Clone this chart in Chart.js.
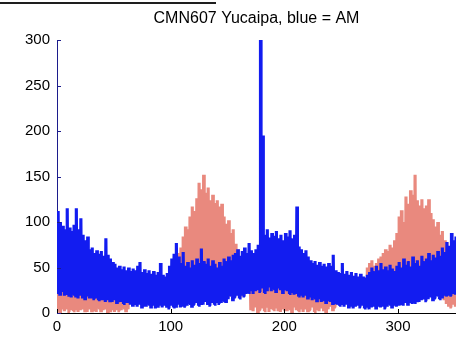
<!DOCTYPE html>
<html><head><meta charset="utf-8">
<script src="https://cdn.jsdelivr.net/npm/chart.js@4.4.0/dist/chart.umd.min.js"></script>
<style>html,body{margin:0;padding:0;background:#fff;overflow:hidden}canvas{display:block}</style>
</head><body><canvas id="c" width="456" height="337"></canvas>
<script>
// Day-of-year bins, 2 days wide, starting at day 0 (d = 0,2,...,350)
const binDays = 2;
const xTickValues = [0, 100, 200, 300];
const yTickValues = [0, 50, 100, 150, 200, 250, 300];
const titleText = 'CMN607 Yucaipa, blue = AM';

// AM (blue): upper and lower envelope of readings per bin
const amHigh = [
 112,100,96,92,115,94,90,97,115,92,
 104,86,80,84,70,72,66,69,65,68,
 63,82,64,60,56,54,50,52,48,51,
 47,50,46,49,47,52,56,45,48,44,
 47,43,46,42,45,55,42,40,44,52,
 60,65,77,62,55,67,52,56,50,58,
 53,60,55,71,57,54,60,52,58,54,
 50,56,52,60,57,62,58,64,66,70,
 63,68,72,66,77,69,66,70,75,300,
 195,86,92,83,88,85,90,82,86,80,
 88,84,91,82,86,117,73,70,66,69,
 62,58,55,57,53,56,52,54,51,55,
 52,64,47,45,44,55,43,46,42,45,
 41,44,40,43,40,39,42,45,50,46,
 52,47,55,48,51,47,53,49,46,52,
 56,50,60,53,57,51,62,55,58,52,
 63,57,60,66,58,64,61,68,63,72,
 67,78,74,88,80,84];
const amLow = [
 22,20,23,19,21,19,17,20,18,16,
 19,17,15,18,16,17,15,16,14,15,
 14,12,15,13,12,14,11,13,12,10,
 12,11,9,8,10,7,9,6,8,7,
 9,6,8,5,7,9,6,8,7,5,
 8,6,7,9,6,8,7,8,10,7,
 9,11,8,10,9,12,10,8,11,9,
 12,10,11,13,12,15,18,14,17,19,
 16,20,18,21,22,25,21,24,26,23,
 27,22,25,28,24,26,23,27,25,22,
 26,24,21,23,20,21,18,20,17,19,
 16,18,14,16,13,15,12,14,11,13,
 12,10,11,9,8,10,7,9,6,8,
 5,7,9,6,8,5,7,4,6,8,
 5,7,6,8,5,7,9,6,8,7,
 9,10,8,11,9,12,10,11,13,12,
 14,16,13,15,17,14,16,18,15,17,
 19,18,20,19,21,20];

// PM (salmon): upper and lower envelope per bin
const pmHigh = [
 28,31,27,33,29,30,26,32,28,30,
 27,29,31,26,28,30,27,29,25,28,
 26,30,27,25,28,26,24,27,25,23,
 26,24,28,32,30,34,31,29,33,30,
 35,32,31,34,30,36,33,35,38,36,
 40,45,60,66,72,84,95,92,106,117,
 112,126,143,136,152,132,138,124,130,121,
 124,117,120,106,98,102,88,92,76,70,
 56,48,45,47,42,44,40,42,38,40,
 37,39,36,38,35,37,34,36,33,35,
 32,34,31,33,30,32,29,31,30,28,
 30,29,27,29,28,26,28,27,25,27,
 26,24,26,25,23,25,24,22,24,23,
 25,24,26,28,27,30,50,55,58,52,
 55,60,62,66,70,68,75,72,80,88,
 106,113,100,128,120,135,130,152,124,118,
 125,115,118,125,110,103,95,100,86,90,
 80,78,64,68,58,55];
const pmLow = [
 3,1,4,2,5,1,3,2,4,1,
 3,5,2,1,4,2,3,1,5,2,
 3,4,1,2,3,1,4,2,3,5,
 2,4,12,14,11,13,15,12,14,11,
 13,16,12,14,13,15,12,14,16,13,
 15,12,14,17,13,15,14,15,17,14,
 16,18,15,17,16,19,17,15,18,16,
 19,17,18,20,19,17,20,16,19,21,
 18,22,19,23,24,4,2,6,1,3,
 5,2,7,1,4,3,6,2,1,5,
 3,2,4,1,6,3,2,5,1,4,
 2,3,6,1,4,2,5,3,1,4,
 7,3,6,9,14,13,11,14,12,10,
 13,11,14,12,13,10,12,14,11,13,
 12,14,11,13,15,12,14,13,15,16,
 14,17,15,16,18,17,19,18,20,19,
 21,20,22,21,23,22,24,23,20,18,
 14,10,8,6,9,7];

// Build a dense oscillating trace (low/high alternating) like the raw sub-daily record
function trace(lo, hi) {
  const n = Math.min(lo.length, hi.length), pts = [];
  for (let i = 0; i < n; i++) {
    const d = i * binDays;
    pts.push({x: d, y: lo[i]}, {x: d + 0.5, y: hi[i]}, {x: d + 1, y: lo[i]}, {x: d + 1.5, y: hi[i]});
  }
  return pts;
}

const FONT = '"Liberation Sans", Arial, Helvetica, sans-serif';
const decor = {
  id: 'decor',
  beforeDraw(chart) {
    const ctx = chart.ctx;
    ctx.save();
    ctx.fillStyle = '#fff';
    ctx.fillRect(0, 0, chart.width, chart.height);
    ctx.fillStyle = '#1e1e1e';
    ctx.fillRect(0, 2, 216, 2);
    ctx.restore();
  },
  afterDraw(chart) {
    const {ctx, chartArea: a, scales: {x, y}} = chart;
    ctx.save();
    ctx.lineWidth = 1;
    ctx.strokeStyle = '#000';
    ctx.beginPath();
    xTickValues.forEach(v => {
      const px = Math.round(x.getPixelForValue(v)) + 0.5;
      ctx.moveTo(px, a.bottom); ctx.lineTo(px, a.bottom - 4);
    });
    ctx.stroke();
    ctx.strokeStyle = '#1c1c8c';
    ctx.beginPath();
    yTickValues.forEach(v => {
      const py = Math.round(y.getPixelForValue(v)) + 0.5;
      ctx.moveTo(a.left, py); ctx.lineTo(a.left + 4, py);
    });
    ctx.stroke();
    ctx.restore();
  }
};

new Chart(document.getElementById('c'), {
  type: 'line',
  data: {
    datasets: [
      {label: 'AM', data: trace(amLow, amHigh), borderColor: 'rgb(18,28,240)', borderWidth: 2, pointRadius: 0, tension: 0, fill: false},
      {label: 'PM', data: trace(pmLow, pmHigh), borderColor: 'rgb(233,137,126)', borderWidth: 2, pointRadius: 0, tension: 0, fill: false}
    ]
  },
  options: {
    responsive: false,
    devicePixelRatio: 1,
    animation: false,
    events: [],
    parsing: false,
    layout: {padding: 0},
    plugins: {
      legend: {display: false},
      tooltip: {enabled: false},
      title: {
        display: true, text: titleText, fullSize: false, color: '#000',
        font: {family: FONT, size: 16, weight: 'normal', lineHeight: 1.2},
        padding: {top: 9, bottom: 11.8}
      }
    },
    scales: {
      x: {
        type: 'linear', min: 0, max: 351,
        afterBuildTicks: s => { s.ticks = xTickValues.map(v => ({value: v})); },
        afterFit: s => { s.height = 24; },
        ticks: {color: '#000', font: {family: FONT, size: 15}, padding: 5, maxRotation: 0, autoSkip: false},
        grid: {display: true, drawOnChartArea: false, drawTicks: false},
        border: {display: true, color: '#000', width: 1}
      },
      y: {
        min: 0, max: 300,
        afterBuildTicks: s => { s.ticks = yTickValues.map(v => ({value: v})); },
        afterFit: s => { s.width = 57; },
        ticks: {color: '#000', font: {family: FONT, size: 15}, padding: 7},
        grid: {display: true, drawOnChartArea: false, drawTicks: false},
        border: {display: true, color: '#1c1c8c', width: 1}
      }
    }
  },
  plugins: [decor]
});
</script>
</body></html>
